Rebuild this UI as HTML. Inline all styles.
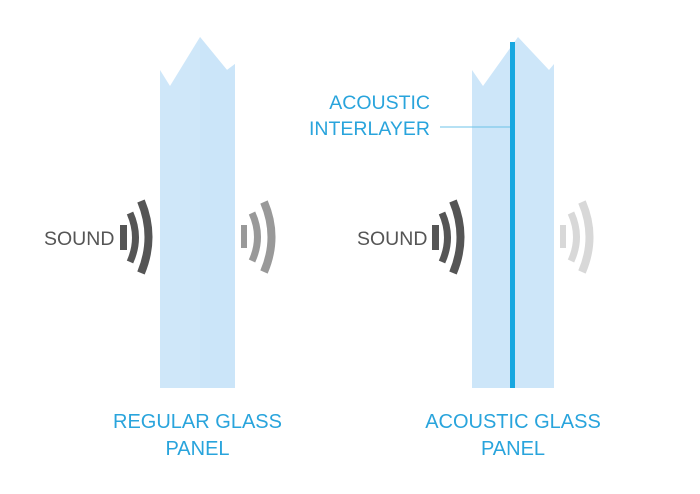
<!DOCTYPE html>
<html><head><meta charset="utf-8"><style>
html,body{margin:0;padding:0;background:#fff;}
svg{display:block;}
text{font-family:"Liberation Sans",sans-serif;}
</style></head><body>
<svg width="700" height="494" viewBox="0 0 700 494">
<rect width="700" height="494" fill="#fff"/>
<!-- Left panel -->
<polygon points="160,70 170,86 200,37 227,70 235,64 235,388 160,388" fill="#cfe7f9"/>
<polygon points="200,37 227,70 235,64 235,388 200,388" fill="#cbe5f9"/>
<!-- Right panel -->
<polygon points="472,70 483,86 518,37 549,70 554,64 554,388 472,388" fill="#cde6f9"/>
<rect x="510" y="42" width="5" height="346" fill="#17a7e0"/>
<line x1="440" y1="127" x2="510" y2="127" stroke="#6cc3e8" stroke-width="1"/>
<!-- labels -->
<g fill="#29a4dc" font-size="20">
<text x="197.5" y="428" text-anchor="middle">REGULAR GLASS</text>
<text x="197.5" y="455" text-anchor="middle">PANEL</text>
<text x="513" y="428" text-anchor="middle">ACOUSTIC GLASS</text>
<text x="513" y="455" text-anchor="middle">PANEL</text>
<text x="430" y="109" text-anchor="end" font-size="19.5">ACOUSTIC</text>
<text x="430" y="135" text-anchor="end" font-size="19.5">INTERLAYER</text>
</g>
<g font-size="19.5" fill="#555">
<text x="44" y="245">SOUND</text>
<text x="357" y="245">SOUND</text>
</g>
<!-- waves -->
<g fill="none" stroke-linecap="butt">
 <g stroke="#555">
  <rect x="120" y="225" width="7" height="25" fill="#555" stroke="none"/>
  <path d="M130,213 Q141,237.5 130,262" stroke-width="7"/>
  <path d="M141,201 Q156,237 141,273" stroke-width="8"/>
 </g>
 <g stroke="#999">
  <rect x="241" y="225" width="6" height="23" fill="#999" stroke="none"/>
  <path d="M252,213 Q263,237 252,261" stroke-width="7"/>
  <path d="M264,202 Q279,237 264,272" stroke-width="8"/>
 </g>
 <g stroke="#555">
  <rect x="432" y="225" width="7" height="25" fill="#555" stroke="none"/>
  <path d="M442,213 Q453,237.5 442,262" stroke-width="7"/>
  <path d="M453,201 Q468,237 453,273" stroke-width="8"/>
 </g>
 <g stroke="#d8d8d8">
  <rect x="560" y="225" width="6" height="23" fill="#d8d8d8" stroke="none"/>
  <path d="M571,213 Q582,237 571,261" stroke-width="7"/>
  <path d="M582,202 Q597,237 582,272" stroke-width="8"/>
 </g>
</g>
</svg>
</body></html>
